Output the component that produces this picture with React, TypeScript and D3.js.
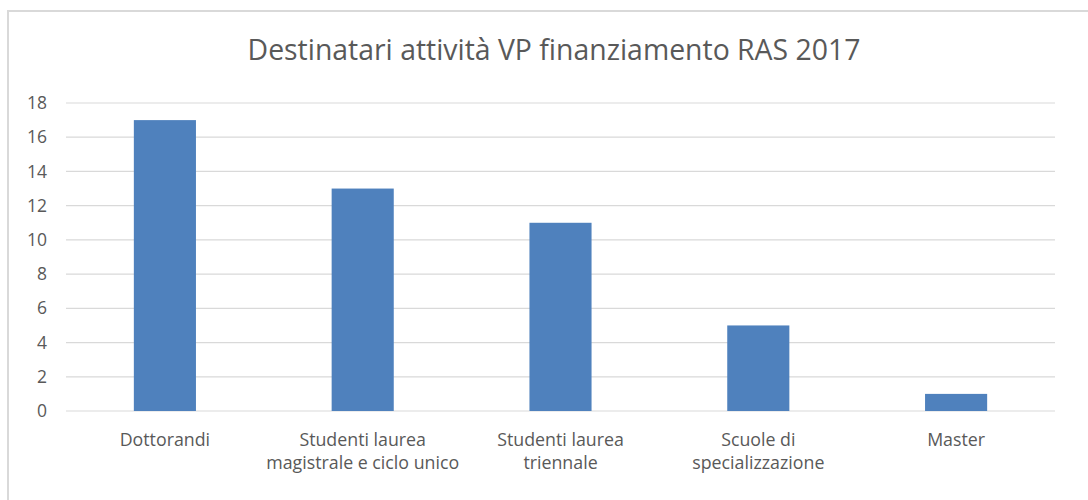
import React from "react";
import * as d3 from "d3";

const width = 1088,
  height = 500;
const margin = { top: 103, right: 33, bottom: 88, left: 66 };

const categories = [
  ["Dottorandi"],
  ["Studenti laurea", "magistrale e ciclo unico"],
  ["Studenti laurea", "triennale"],
  ["Scuole di", "specializzazione"],
  ["Master"],
];
const values = [17, 13, 11, 5, 1];
const yTicks = [0, 2, 4, 6, 8, 10, 12, 14, 16, 18];
const title = "Destinatari attività VP finanziamento RAS 2017";

const font = "'Open Sans', 'DejaVu Sans', sans-serif";

export default function App() {
  const keys = categories.map((c) => c.join(" "));
  const x = d3
    .scaleBand()
    .domain(keys)
    .range([margin.left, width - margin.right])
    .paddingInner(0.686)
    .paddingOuter(0.343);
  const y = d3
    .scaleLinear()
    .domain([0, 18])
    .range([height - margin.bottom - 1, margin.top]);

  return (
    <svg
      width={width}
      height={height}
      style={{ position: "absolute", left: 0, top: 0, background: "#fff" }}
    >
      {/* chart frame, cropped at right and bottom */}
      <path
        d={`M8,${height + 5} V11 H${width + 5}`}
        fill="none"
        stroke="#D9D9D9"
        strokeWidth={2}
      />
      <text
        x={554}
        y={50}
        dy="0.35em"
        textAnchor="middle"
        fontFamily={font}
        fontSize={28.4}
        fill="#595959"
      >
        {title}
      </text>
      {yTicks.map((t) => (
        <g key={t}>
          <line
            x1={margin.left}
            x2={width - margin.right}
            y1={y(t)}
            y2={y(t)}
            stroke="#D9D9D9"
            strokeWidth={1.2}
          />
          <text
            x={47}
            y={y(t)}
            dy="0.35em"
            textAnchor="end"
            fontFamily={font}
            fontSize={17.5}
            fill="#595959"
          >
            {t}
          </text>
        </g>
      ))}
      {values.map((v, i) => (
        <rect
          key={keys[i]}
          x={x(keys[i])}
          width={x.bandwidth()}
          y={y(v)}
          height={y(0) - y(v)}
          fill="#4F81BD"
        />
      ))}
      {categories.map((lines, i) => (
        <text
          key={keys[i]}
          textAnchor="middle"
          fontFamily={font}
          fontSize={17.8}
          fill="#595959"
        >
          {lines.map((l, j) => (
            <tspan
              key={j}
              x={(x(keys[i]) as number) + x.bandwidth() / 2}
              y={440 + j * 23}
              dy="0.35em"
            >
              {l}
            </tspan>
          ))}
        </text>
      ))}
    </svg>
  );
}
